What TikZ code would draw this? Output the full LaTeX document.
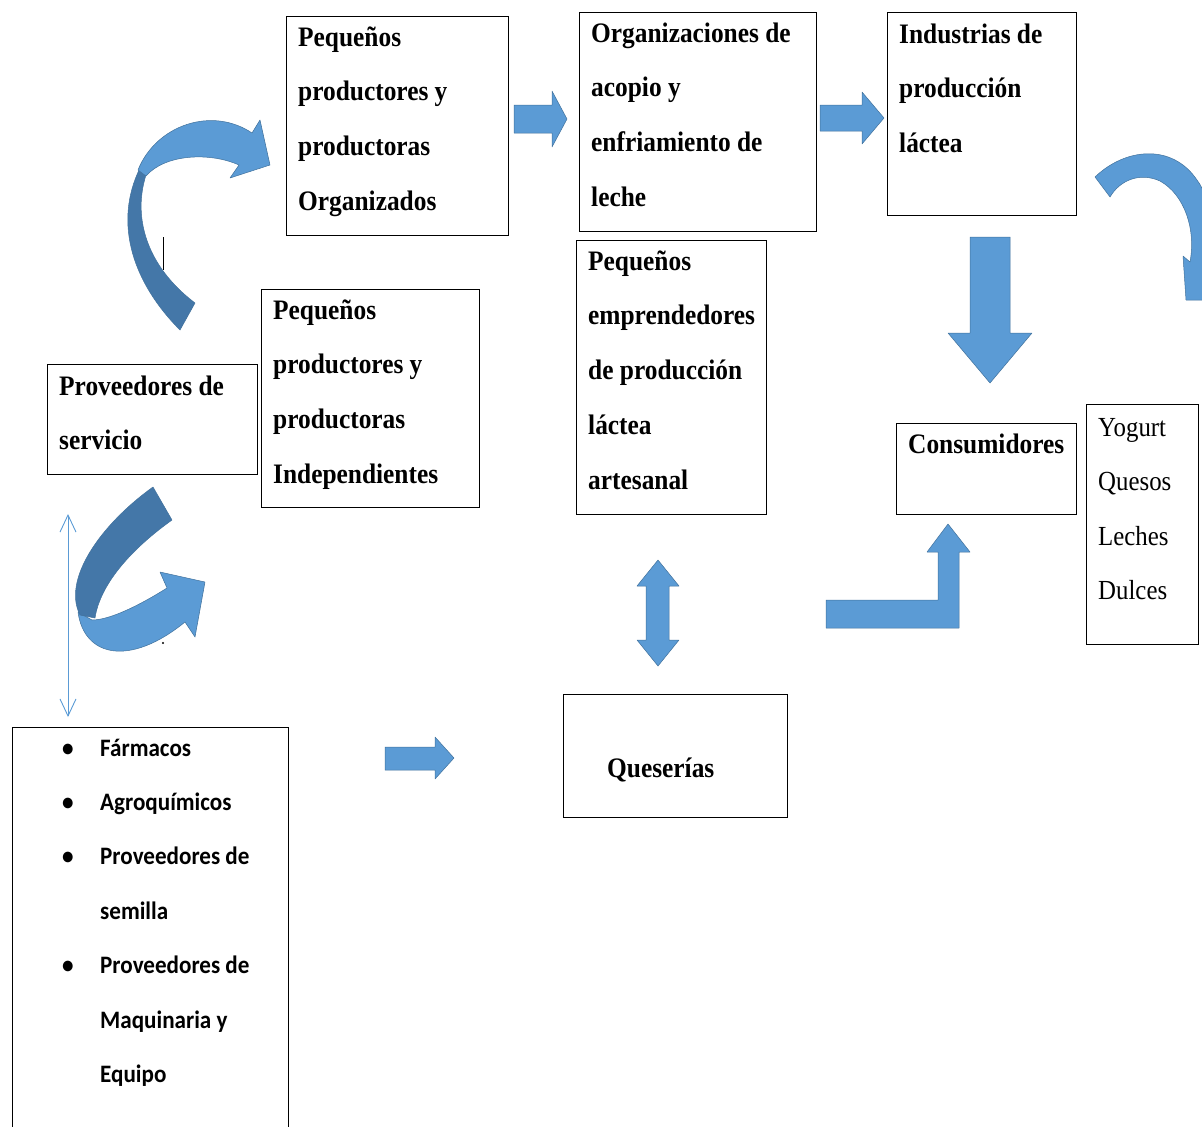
\documentclass[tikz,border=0pt]{standalone}
\usepackage{fontspec}
\setmainfont{Liberation Serif}[FakeStretch=0.9]
\newfontfamily\sanslista{Carlito}[FakeStretch=0.92]
\usetikzlibrary{arrows.meta}

\definecolor{azul}{RGB}{91,155,213}
\definecolor{azuloscuro}{RGB}{68,119,168}
\definecolor{borde}{RGB}{65,113,156}
\newcommand{\vineta}{\leavevmode\llap{\makebox[38pt][l]{\textbullet}}}

\begin{document}
\begin{tikzpicture}[
    x=1pt, y=-1pt,
    caja/.style={draw, line width=1.4pt, inner sep=0pt, anchor=north west},
    texto/.style={anchor=base west, inner sep=0pt, text width=240pt, align=flush left,
        font=\bfseries\fontsize{28.2}{54.8}\selectfont},
    lista/.style={anchor=base west, inner sep=0pt, text width=240pt, align=flush left,
        font=\sanslista\bfseries\fontsize{25.1}{54.4}\selectfont},
    bloque/.style={fill=azul, draw=borde, line width=0.5pt, line join=round},
    bloqueosc/.style={fill=azuloscuro, draw=borde, line width=0.5pt, line join=round},
    >={Straight Barb[length=17pt, width=16pt]} % flecha fina
]
    \useasboundingbox (0,0) rectangle (1202,1127);
    \clip (0,0) rectangle (1202,1127);

    % cajas
    \node[caja, minimum width=222pt, minimum height=219pt] (org) at (286,16) {};
    \node[caja, minimum width=237pt, minimum height=219pt] (acopio) at (579,12) {};
    \node[caja, minimum width=189pt, minimum height=203pt] (industria) at (887,12) {};
    \node[caja, minimum width=218pt, minimum height=218pt] (indep) at (261,289) {};
    \node[caja, minimum width=190pt, minimum height=274pt] (artesanal) at (576,240) {};
    \node[caja, minimum width=210pt, minimum height=110pt] (servicio) at (47,364) {};
    \node[caja, minimum width=180pt, minimum height=91pt] (consumidores) at (896,423) {};
    \node[caja, minimum width=112pt, minimum height=240pt] (productos) at (1086,404) {};
    \node[caja, minimum width=224pt, minimum height=123pt] (queserias) at (563,694) {};
    \node[caja, minimum width=276pt, minimum height=420pt] (insumos) at (12,727) {};

    \node[texto] (orgtxt) at (298,46) {Pequeños\\productores y\\productoras\\Organizados};
    \node[texto] (acopiotxt) at (591,42) {Organizaciones de\\acopio y\\enfriamiento de\\leche};
    \node[texto] (industriatxt) at (899,43) {Industrias de\\producción\\láctea};
    \node[texto] (indeptxt) at (273,319) {Pequeños\\productores y\\productoras\\Independientes};
    \node[texto] (artesanaltxt) at (588,270) {Pequeños\\emprendedores\\de producción\\láctea\\artesanal};
    \node[texto] (serviciotxt) at (59,395) {Proveedores de\\servicio};
    \node[texto] (consumidorestxt) at (908,453) {Consumidores};
    \node[texto, font=\fontsize{27.6}{54.5}\selectfont] (productostxt) at (1098,436) {Yogurt\\Quesos\\Leches\\Dulces};
    \node[texto] (queseriastxt) at (607,777) {Queserías};
    \node[lista] (insumostxt) at (100,756) {\vineta Fármacos\\\vineta Agroquímicos\\\vineta Proveedores de\\semilla\\\vineta Proveedores de\\Maquinaria y\\Equipo};

    % flechas de bloque
    \draw[bloque] (514,105) -- (552,105) -- (552,91) -- (567,119) -- (552,147) -- (552,133) -- (514,133) -- cycle;
    \draw[bloque] (820,105) -- (862,105) -- (862,92) -- (884,118) -- (862,144) -- (862,131) -- (820,131) -- cycle;
    \draw[bloque] (970,237) -- (1010,237) -- (1010,333) -- (1032,333) -- (990,383) -- (948,333) -- (970,333) -- cycle;
    \draw[bloque] (658,560) -- (679,586) -- (669,586) -- (669,640) -- (679,640) -- (658,666) -- (637,640) -- (646,640) -- (646,586) -- (637,586) -- cycle;
    \draw[bloque] (826,600) -- (938,600) -- (938,552) -- (927,552) -- (948,524) -- (970,552) -- (959,552) -- (959,628) -- (826,628) -- cycle;
    \draw[bloque] (385,747) -- (435,747) -- (435,737) -- (454,758) -- (435,779) -- (435,770) -- (385,770) -- cycle;

    % flechas curvas
    \draw[bloqueosc] (180,330) .. controls (135,285) and (112,225) .. (140,168) -- (147,172) .. controls (132,215) and (145,265) .. (195,303) -- cycle;
    \draw[bloque] (138,170) .. controls (156,125) and (212,106) .. (252,133) -- (260,120) -- (270,165) -- (230,178) -- (239,165) .. controls (210,152) and (165,154) .. (146,176) -- cycle;
    \draw[bloque] (78,612) .. controls (84,657) and (130,667) .. (185,622) -- (195,637) -- (205,582) -- (160,572) -- (167,588) .. controls (140,605) and (110,620) .. (92,620) -- cycle;
    \draw[bloqueosc] (153,487) .. controls (100,525) and (62,580) .. (80,615) -- (95,618) .. controls (100,585) and (130,550) .. (172,520) -- cycle;
    \draw[bloque] (1095,177) .. controls (1125,148) and (1172,143) .. (1197,180) .. controls (1212,200) and (1216,240) .. (1211,270) -- (1215,300) -- (1186,300) -- (1183,256) -- (1190,262) .. controls (1196,230) and (1185,195) .. (1160,181) .. controls (1140,172) and (1120,180) .. (1110,197) -- cycle;

    % flecha fina
    \coordinate (finaarriba) at (68,514);
    \coordinate (finaabajo) at (68,717);
    \draw[<->, azul, line width=0.9pt] (finaarriba) -- (finaabajo);

    \draw[line width=1pt] (163,237) -- (163,270);
    \fill (163,643) circle (1.2pt);
\end{tikzpicture}
\end{document}
